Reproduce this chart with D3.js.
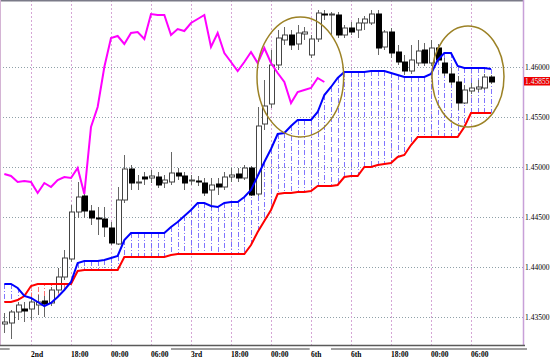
<!DOCTYPE html>
<html lang="en">
<head>
    <meta charset="UTF-8">
    <title>Ichimoku Candle Chart</title>
    <script src="https://d3js.org/d3.v7.min.js"></script>
    <style>
      body { margin: 0; background: #fff; }
      svg { display: block; }
    </style>
</head>
<body>
  <script>

    // ---- data ----
    var open  = [1.4343,1.4344,1.4355,1.4358,1.4358,1.4362,1.4366,1.4364,1.4377,1.4390,
                 1.4408,1.4455,1.4471,1.4456,1.4449,1.4448,1.4439,1.4423,1.4467,1.4498,
                 1.4484,1.4490,1.4489,1.4490,1.4484,1.4485,1.4494,1.4491,1.4486,1.4486,
                 1.4484,1.4477,1.4483,1.4480,1.4490,1.4493,1.4489,1.4499,1.4473,1.4543,
                 1.4563,1.4602,1.4627,1.4632,1.4623,1.4633,1.4612,1.4628,1.4653,1.4652,
                 1.4652,1.4632,1.4639,1.4637,1.4644,1.4644,1.4653,1.4620,1.4635,1.4615,
                 1.4605,1.4596,1.4604,1.4617,1.4604,1.4619,1.4604,1.4593,1.4585,1.4564,
                 1.4576,1.4578,1.4579,1.4590];
    var high  = [1.4354,1.4357,1.4365,1.4365,1.4370,1.4372,1.4371,1.4380,1.4399,1.4417,
                 1.4462,1.4485,1.4477,1.4462,1.4460,1.4460,1.4445,1.4480,1.4512,1.4502,
                 1.4492,1.4495,1.4497,1.4495,1.4492,1.4515,1.4499,1.4495,1.4492,1.4491,
                 1.4489,1.4489,1.4489,1.4495,1.4499,1.4499,1.4502,1.4501,1.4560,1.4587,
                 1.4617,1.4637,1.4640,1.4637,1.4642,1.4640,1.4632,1.4657,1.4657,1.4655,
                 1.4655,1.4642,1.4645,1.4649,1.4651,1.4657,1.4657,1.4637,1.4639,1.4622,
                 1.4612,1.4622,1.4627,1.4624,1.4627,1.4623,1.4609,1.4599,1.4591,1.4582,
                 1.4584,1.4587,1.4593,1.4592];
    var low   = [1.4334,1.4328,1.4347,1.4345,1.4347,1.4352,1.4350,1.4361,1.4374,1.4387,
                 1.4405,1.4449,1.4449,1.4442,1.4432,1.4430,1.4422,1.4422,1.4464,1.4477,
                 1.4477,1.4482,1.4484,1.4479,1.4479,1.4482,1.4487,1.4477,1.4482,1.4481,
                 1.4471,1.4459,1.4472,1.4477,1.4485,1.4485,1.4487,1.4471,1.4471,1.4537,
                 1.4559,1.4597,1.4622,1.4617,1.4617,1.4627,1.4609,1.4625,1.4647,1.4632,
                 1.4629,1.4629,1.4632,1.4629,1.4637,1.4642,1.4612,1.4617,1.4609,1.4602,
                 1.4592,1.4593,1.4601,1.4601,1.4601,1.4605,1.4591,1.4582,1.4557,1.4563,
                 1.4573,1.4575,1.4577,1.4583];
    var close = [1.4345,1.4355,1.4362,1.4356,1.4365,1.4365,1.4363,1.4377,1.4390,1.4409,
                 1.4455,1.4470,1.4456,1.4449,1.4448,1.4440,1.4424,1.4467,1.4498,1.4484,
                 1.4485,1.4488,1.4491,1.4482,1.4487,1.4494,1.4491,1.4484,1.4487,1.4485,
                 1.4474,1.4482,1.4480,1.4490,1.4492,1.4489,1.4499,1.4472,1.4541,1.4561,
                 1.4602,1.4629,1.4632,1.4622,1.4634,1.4635,1.4628,1.4654,1.4652,1.4653,
                 1.4632,1.4639,1.4635,1.4644,1.4648,1.4653,1.4619,1.4635,1.4614,1.4605,
                 1.4596,1.4607,1.4616,1.4604,1.4619,1.4607,1.4594,1.4585,1.4564,1.4577,
                 1.4579,1.4580,1.4590,1.4585];

    // pink line (lagging span), starts at the first bar
    var lagging = [1.4493,1.4491,1.4485,1.4486,1.4485,1.4474,1.4484,1.4480,1.4487,1.4490,
                   1.4489,1.4499,1.4473,1.4540,1.4560,1.4600,1.4629,1.4631,1.4623,1.4634,
                   1.4635,1.4628,1.4653,1.4652,1.4652,1.4632,1.4638,1.4636,1.4644,1.4648,
                   1.4652,1.4620,1.4634,1.4614,1.4605,1.4596,1.4605,1.4615,1.4604,1.4619,
                   1.4604,1.4594,1.4585,1.4564,1.4575,1.4577,1.4579,1.4589,1.4585];

    // blue line and red line, the cloud is hatched between them
    var spanA = [1.4383,1.4383,1.4379,1.4371,1.4369,1.4365,1.4361,1.4364,1.4370,1.4377,
                 1.4385,1.4404,1.4406,1.4406,1.4406,1.4407,1.4409,1.4411,1.4427,1.4434,
                 1.4434,1.4434,1.4434,1.4434,1.4434,1.4440,1.4445,1.4451,1.4457,1.4464,
                 1.4464,1.4461,1.4460,1.4464,1.4465,1.4465,1.4470,1.4477,1.4491,1.4505,
                 1.4518,1.4533,1.4534,1.4541,1.4547,1.4547,1.4547,1.4555,1.4572,1.4580,
                 1.4589,1.4595,1.4595,1.4595,1.4595,1.4596,1.4596,1.4596,1.4594,1.4592,
                 1.4590,1.4590,1.4590,1.4590,1.4593,1.4607,1.4614,1.4614,1.4601,1.4599,
                 1.4599,1.4599,1.4599,1.4598];
    var spanB = [1.4365,1.4365,1.4367,1.4371,1.4381,1.4383,1.4383,1.4383,1.4383,1.4383,
                 1.4383,1.4396,1.4397,1.4397,1.4397,1.4397,1.4397,1.4397,1.4410,1.4410,
                 1.4410,1.4410,1.4410,1.4410,1.4410,1.4412,1.4413,1.4413,1.4413,1.4413,
                 1.4413,1.4413,1.4413,1.4413,1.4413,1.4413,1.4413,1.4422,1.4435,1.4446,
                 1.4457,1.4473,1.4474,1.4474,1.4475,1.4475,1.4476,1.4481,1.4481,1.4481,
                 1.4482,1.4490,1.4491,1.4491,1.4500,1.4500,1.4502,1.4503,1.4504,1.4510,
                 1.4512,1.4522,1.4530,1.4530,1.4530,1.4530,1.4530,1.4530,1.4530,1.4540,
                 1.4554,1.4554,1.4554,1.4554];

    var lastPrice = 1.45855;

    // axis ticks
    var yTicks = [1.4350, 1.4400, 1.4450, 1.4500, 1.4550, 1.4600];
    var xTickBars = [4, 10, 16, 22, 28, 34, 40, 46, 52, 58, 64, 70];
    var xLabels = ["2nd", "18:00", "00:00", "06:00", "3rd", "18:00", "00:00", "6th", "6th", "18:00", "00:00", "06:00"];

    // bars under the time axis (in bar units)
    var dayBands = [[-1, 0.8], [25, 45.8], [49, 78.4]];

    // hand drawn ellipses (centre bar, centre price, radius in bars, radius in price)
    var marks = [
      {bar: 44.4, price: 1.4590, rBars: 6.5, rPrice: 0.0060},
      {bar: 69.55, price: 1.45905, rBars: 5.4, rPrice: 0.00505}
    ];

    // ---- chart ----
    var W = 550, H = 360;
    var plotRight = 523, plotBottom = 345;

    var svg = d3.select("body")
      .append("svg")
        .attr("width", W)
        .attr("height", H);

    var x = d3.scaleLinear()
        .domain([0, open.length - 1])
        .range([4.33, 491]);

    var y = d3.scaleLinear()
        .domain([1.4322, 1.4667])
        .range([plotBottom, 0]);

    var font = "'Liberation Serif', serif";

    // grid
    svg.append("g")
      .selectAll("line")
      .data(yTicks)
      .enter().append("line")
        .attr("x1", 0)
        .attr("x2", plotRight)
        .attr("y1", function(d) { return Math.round(y(d)) + 0.5; })
        .attr("y2", function(d) { return Math.round(y(d)) + 0.5; })
        .attr("stroke", "#8fa0a8")
        .attr("stroke-dasharray", "1,2");

    svg.append("g")
      .selectAll("line")
      .data(xTickBars)
      .enter().append("line")
        .attr("x1", function(d) { return Math.round(x(d) - 0.33) + 0.5; })
        .attr("x2", function(d) { return Math.round(x(d) - 0.33) + 0.5; })
        .attr("y1", 0)
        .attr("y2", plotBottom)
        .attr("stroke", "#d6a6d6")
        .attr("stroke-dasharray", "2,2");

    // cloud hatching
    svg.append("g")
      .selectAll("line")
      .data(spanA)
      .enter().append("line")
        .attr("x1", function(d, i) { return Math.round(x(i)) + 0.5; })
        .attr("x2", function(d, i) { return Math.round(x(i)) + 0.5; })
        .attr("y1", function(d) { return y(d); })
        .attr("y2", function(d, i) { return y(spanB[i]); })
        .attr("stroke", function(d, i) { return d >= spanB[i] ? "#6a5cff" : "#ff5a5a"; })
        .attr("stroke-opacity", 0.85)
        .attr("stroke-dasharray", "5,2,1,2");

    // candles
    var bars = d3.range(open.length);
    var candles = svg.append("g");

    candles.selectAll("line")
      .data(bars)
      .enter().append("line")
        .attr("x1", function(i) { return Math.round(x(i)) + 0.5; })
        .attr("x2", function(i) { return Math.round(x(i)) + 0.5; })
        .attr("y1", function(i) { return y(high[i]); })
        .attr("y2", function(i) { return y(low[i]); })
        .attr("stroke", "#666");

    candles.selectAll("rect")
      .data(bars)
      .enter().append("rect")
        .attr("x", function(i) { return Math.round(x(i)) - 2 + 0.5; })
        .attr("width", 5)
        .attr("y", function(i) { return y(Math.max(open[i], close[i])); })
        .attr("height", function(i) { return Math.max(1, Math.abs(y(open[i]) - y(close[i]))); })
        .attr("fill", function(i) { return close[i] >= open[i] ? "#fff" : "#000"; })
        .attr("stroke", function(i) { return close[i] >= open[i] ? "#444" : "#000"; });

    // indicator lines
    var line = d3.line()
        .x(function(d, i) { return x(i); })
        .y(function(d) { return y(d); });

    svg.append("path")
        .datum(spanB)
        .attr("fill", "none")
        .attr("stroke", "#ff0000")
        .attr("stroke-width", 2)
        .attr("d", line);

    svg.append("path")
        .datum(spanA)
        .attr("fill", "none")
        .attr("stroke", "#0000ff")
        .attr("stroke-width", 2)
        .attr("d", line);

    svg.append("path")
        .datum(lagging)
        .attr("fill", "none")
        .attr("stroke", "#ff00ff")
        .attr("stroke-width", 2)
        .attr("d", line);

    // ellipses
    svg.append("g")
      .selectAll("ellipse")
      .data(marks)
      .enter().append("ellipse")
        .attr("cx", function(d) { return x(d.bar); })
        .attr("cy", function(d) { return y(d.price); })
        .attr("rx", function(d) { return x(d.bar + d.rBars) - x(d.bar); })
        .attr("ry", function(d) { return y(d.price - d.rPrice) - y(d.price); })
        .attr("fill", "none")
        .attr("stroke", "#9c8226")
        .attr("stroke-width", 1.5);

    // frame
    svg.append("line")
        .attr("x1", 0).attr("x2", plotRight + 1)
        .attr("y1", 0.75).attr("y2", 0.75)
        .attr("stroke", "#7a7a88").attr("stroke-width", 1.5);
    svg.append("line")
        .attr("x1", 0.5).attr("x2", 0.5)
        .attr("y1", 0).attr("y2", plotBottom)
        .attr("stroke", "#d4b4d4");
    svg.append("line")
        .attr("x1", plotRight + 0.5).attr("x2", plotRight + 0.5)
        .attr("y1", 0).attr("y2", plotBottom + 1)
        .attr("stroke", "#c8a0d8").attr("stroke-width", 1.5);
    svg.append("line")
        .attr("x1", 0).attr("x2", plotRight + 2)
        .attr("y1", plotBottom + 0.5).attr("y2", plotBottom + 0.5)
        .attr("stroke", "#5a5a5a").attr("stroke-width", 1.5);

    svg.append("g")
      .selectAll("line")
      .data(dayBands)
      .enter().append("line")
        .attr("x1", function(d) { return Math.max(0, x(d[0])); })
        .attr("x2", function(d) { return x(d[1]); })
        .attr("y1", plotBottom + 4)
        .attr("y2", plotBottom + 4)
        .attr("stroke", "#808080")
        .attr("stroke-width", 1.5);

    // price axis
    var yAxis = svg.append("g")
        .attr("transform", "translate(" + (plotRight + 1) + ",0)")
        .call(d3.axisRight(y)
          .tickValues(yTicks)
          .tickSize(0)
          .tickPadding(1)
          .tickFormat(d3.format(".5f")));
    yAxis.select(".domain").remove();
    yAxis.selectAll("text")
        .attr("font-family", font)
        .attr("font-size", 7.5)
        .attr("fill", "#000");

    // time axis
    var xAxis = svg.append("g")
        .attr("transform", "translate(0," + plotBottom + ")")
        .call(d3.axisBottom(x)
          .tickValues(xTickBars)
          .tickSize(0)
          .tickPadding(7)
          .tickFormat(function(d, i) { return xLabels[i]; }));
    xAxis.select(".domain").remove();
    xAxis.selectAll("text")
        .attr("text-anchor", "start")
        .attr("x", -0.5)
        .attr("font-family", font)
        .attr("font-size", 7.5)
        .attr("font-weight", "bold")
        .attr("fill", "#000");

    // last price tag
    svg.append("rect")
        .attr("x", plotRight + 1)
        .attr("y", y(lastPrice) - 4.5)
        .attr("width", 30)
        .attr("height", 8.5)
        .attr("fill", "#f00000");
    svg.append("text")
        .attr("x", plotRight + 2)
        .attr("y", y(lastPrice))
        .attr("dy", "0.32em")
        .attr("font-family", font)
        .attr("font-size", 7.5)
        .attr("fill", "#dff8ff")
        .text(d3.format(".5f")(lastPrice));
  </script>
</body>
</html>
